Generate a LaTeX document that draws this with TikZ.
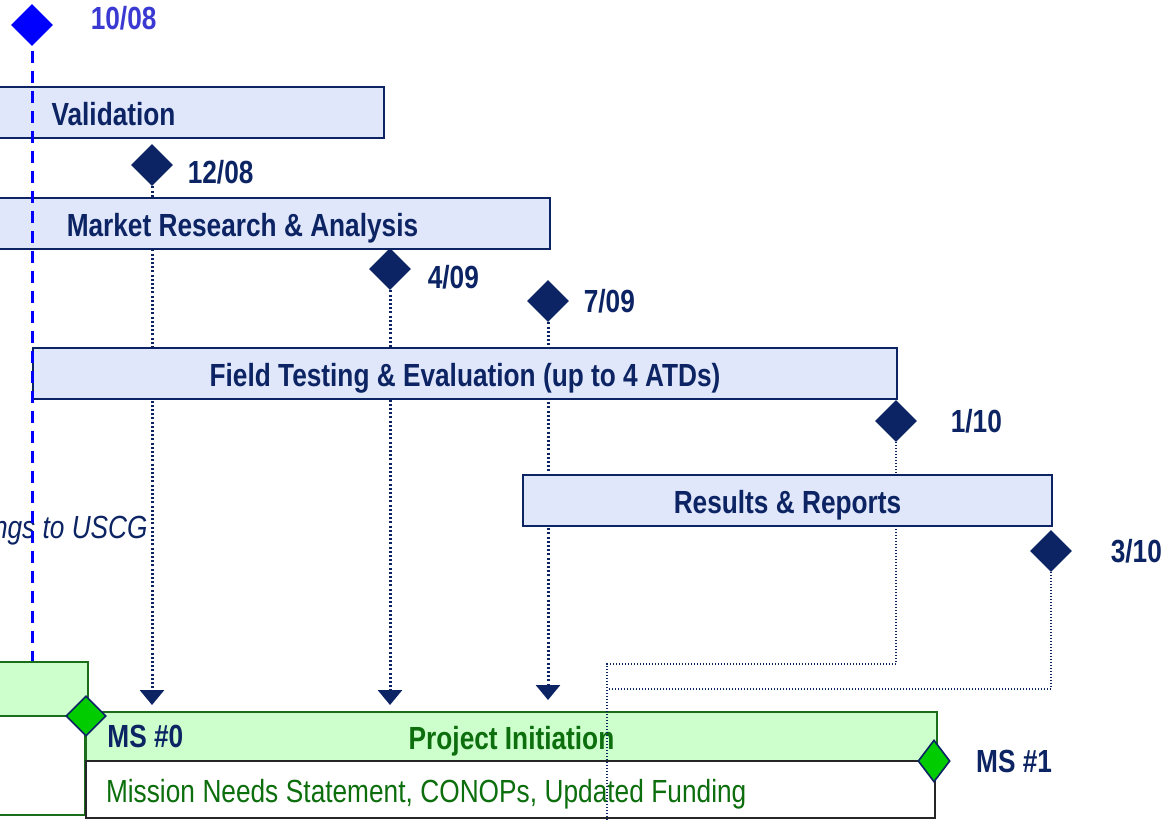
\documentclass[tikz,border=0pt]{standalone}
\usepackage{fontspec}
\setmainfont{Liberation Sans}[FakeStretch=0.82]
\usetikzlibrary{positioning,shapes.geometric,arrows.meta,backgrounds}

\definecolor{darknavy}{RGB}{12,36,99}
\definecolor{barfill}{RGB}{225,231,250}
\definecolor{datablue}{RGB}{58,58,210}
\definecolor{msgreen}{RGB}{0,204,0}
\definecolor{phasefill}{RGB}{204,255,204}
\definecolor{phaseline}{RGB}{26,110,26}
\definecolor{phasetext}{RGB}{12,110,12}

\begin{document}
\begin{tikzpicture}[
    x=0.5pt, y=-0.5pt,
    font=\fontsize{16}{19}\selectfont\bfseries,
    bar/.style={rectangle, draw=darknavy, line width=1pt, fill=barfill, text=darknavy, minimum height=25.5pt, inner sep=0pt, text height=12.5pt, text depth=0pt},
    phase/.style={rectangle, draw=phaseline, line width=1pt, fill=phasefill, inner sep=0pt, text height=12.5pt, text depth=0pt},
    ms/.style={diamond, fill=darknavy, inner sep=0pt, minimum width=21pt, minimum height=21pt},
    gate/.style={diamond, draw=darknavy, line width=0.8pt, fill=msgreen, inner sep=0pt, minimum width=20pt, minimum height=20pt},
    date/.style={text=darknavy, inner sep=0pt},
    drop/.style={draw=darknavy, line width=1.5pt, dash pattern=on 1pt off 1.1pt, -{Triangle[width=12pt,length=7.5pt]}},
    link/.style={draw=darknavy, line width=0.6pt, dash pattern=on 0.5pt off 1pt},
    review/.style={draw=blue, line width=1.5pt, dash pattern=on 6pt off 4pt}
]
\useasboundingbox (0,0) rectangle (1172,821);
\clip (0,0) rectangle (1172,821);

% milestones
\node[ms, fill=blue] (d1008) at (32,25) {};
\node[date, text=datablue, right=18.5pt of d1008, yshift=3.5pt] {10/08};
\node[ms] (d1208) at (152,165) {};
\node[date, right=7pt of d1208, yshift=-3.5pt] {12/08};
\node[ms] (d0409) at (390,269) {};
\node[date, right=8pt of d0409, yshift=-4pt] {4/09};
\node[ms] (d0709) at (548,301) {};
\node[date, right=7pt of d0709] {7/09};
\node[ms] (d0110) at (896,421) {};
\node[date, right=16.5pt of d0110] {1/10};
\node[ms] (d0310) at (1051,551) {};
\node[date, right=19pt of d0310] {3/10};

% tasks
\node[bar, minimum width=270.5pt] (valid) at (113.5,112.5) {Validation};
\node[bar, minimum width=307.5pt] (market) at (242.5,223.5) {Market Research \& Analysis};
\node[bar, minimum width=432pt] (field) at (465,373.5) {Field Testing \& Evaluation (up to 4 ATDs)};
\node[bar, minimum width=264.5pt] (results) at (787.5,500.5) {Results \& Reports};

% phases
\node[phase, minimum width=74pt, minimum height=27pt] (prev) at (14,689) {};
\node[rectangle, draw=phaseline, line width=1pt, fill=white, minimum width=72.5pt, minimum height=49.5pt] (prevdesc) at (12.5,765.5) {};
\node[phase, minimum width=425.5pt, minimum height=24.5pt, text=phasetext] (pinit) at (511.5,736.5) {Project Initiation};
\node[rectangle, draw=black!85, line width=1pt, fill=white, minimum height=28.5pt, text width=404.5pt, inner xsep=10pt, inner ysep=0pt, text height=12.5pt, text depth=0pt, align=left, text=phasetext, font=\fontsize{16}{19}\selectfont] (pdesc) at (510.5,789.5) {\spaceskip=3.8pt\relax Mission Needs Statement, CONOPs, Updated Funding};
\node[date, right=11pt of pinit.west] (ms0) {MS \#0};
\node[gate] (gate0) at (86,716) {};
\node[gate, minimum width=16pt, minimum height=21pt] (gate1) at (934,761) {};
\node[date, right=12.5pt of gate1] (ms1) {MS \#1};

\node[text=darknavy, inner sep=0pt, anchor=east, font=\fontsize{16}{19}\selectfont\itshape] (uscg) at (148,531) {ngs to USCG};

\coordinate (tip1208) at (152,705);
\coordinate (tip0409) at (390,705);
\coordinate (tip0709) at (548,700);
\coordinate (join1) at (607,664);
\coordinate (join2) at (607,689);
\coordinate (joinend) at (607,830);

\begin{pgfonlayer}{background}
\draw[drop] (d1208.south) -- (tip1208);
\draw[drop] (d0409.south) -- (tip0409);
\draw[drop] (d0709.south) -- (tip0709);
\draw[link] (d0110.south) |- (join1) -- (join1 |- pinit.north);
\draw[link] (d0310.south) |- (join2);
\end{pgfonlayer}

\draw[link] (join1 |- pinit.north) -- (joinend);
\draw[review] ([yshift=-2.5pt]d1008.south) -- (d1008 |- prev.north);
\end{tikzpicture}
\end{document}
